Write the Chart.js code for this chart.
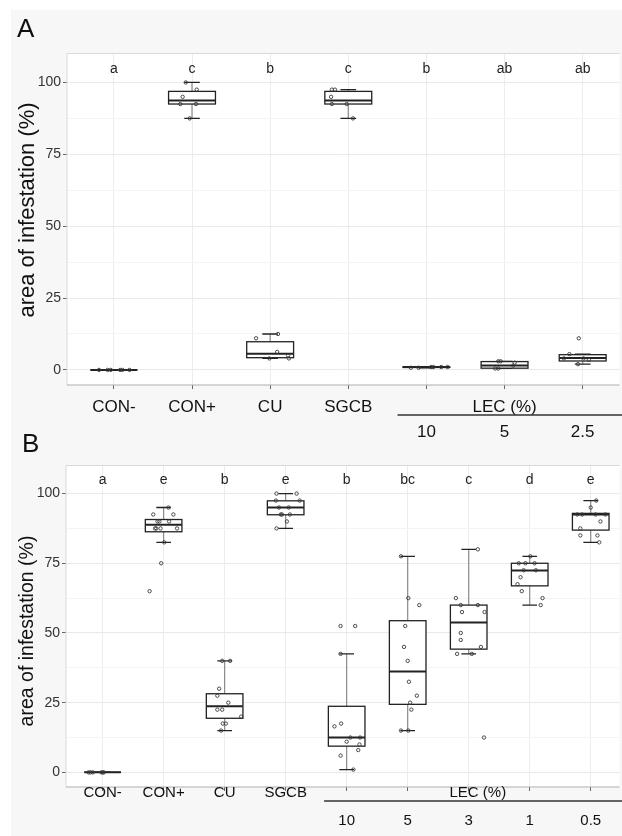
<!DOCTYPE html>
<html><head><meta charset="utf-8">
<script src="https://cdn.jsdelivr.net/npm/chart.js@4.4.1/dist/chart.umd.min.js"></script>
<style>
html,body{margin:0;padding:0;background:#fff;width:622px;height:836px;overflow:hidden;position:relative;}
#bg{position:absolute;left:11px;top:10px;width:611px;height:826px;background:#f7f7f7;}
.wrap{position:absolute;left:0;width:622px;}
#wa{top:0;height:450px;} #wb{top:450px;height:386px;}
.plab{position:absolute;font-family:"Liberation Sans",Arial,sans-serif;font-size:26px;line-height:26px;color:#111;}
</style></head><body>
<div id="bg"></div>
<div class="wrap" id="wa"><canvas id="ca" width="622" height="450"></canvas></div>
<div class="wrap" id="wb"><canvas id="cb" width="622" height="386"></canvas></div>
<div class="plab" style="left:17px;top:15px;">A</div>
<div class="plab" style="left:22px;top:430px;">B</div>
<script>
// ---------- Panel A data ----------
const categoriesA = ['CON-','CON+','CU','SGCB','10','5','2.5'];
const lettersA = ['a','c','b','c','b','ab','ab'];
const whiskerLowA = [0, 87.5, 4, 87.5, 0.75, 0.5, 2];
const q1A = [0, 92.5, 4.25, 92.5, 0.85, 0.6, 3.1];
const medianA = [0, 93.75, 5.6, 93.75, 1, 1.5, 4.1];
const q3A = [0, 96.9, 9.8, 96.9, 1.05, 2.9, 5.3];
const whiskerHighA = [0, 100, 12.5, 97.5, 1.05, 3, 5.5];
const pointsA = [
  [0,0,0,0,0,0],
  [100,97.5,95,92.5,92.5,87.5],
  [12.5,11,6.25,4,5,4],
  [97.5,97.5,95,92.5,92.5,87.5],
  [0.75,0.75,1,1,1,1],
  [3,3,2.5,1.5,0.5,0.5],
  [11,5.5,4,4,3.5,2]
];
const jitterA = [
  [-0.19,-0.08,-0.04,0.08,0.11,0.2],
  [-0.08,0.06,-0.12,-0.15,0.05,-0.03],
  [0.1,-0.18,0.09,-0.01,0.23,0.24],
  [-0.21,-0.17,-0.22,-0.21,-0.02,0.06],
  [-0.2,-0.1,0.06,0.09,0.19,0.27],
  [-0.08,-0.05,0.13,0.11,-0.12,-0.08],
  [-0.05,-0.17,-0.24,0.01,0.08,-0.06]
];

// ---------- Panel B data ----------
const categoriesB = ['CON-','CON+','CU','SGCB','10','5','3','1','0.5'];
const lettersB = ['a','e','b','e','b','bc','c','d','e'];
const whiskerLowB = [0, 82.5, 15, 87.5, 1, 15, 42.5, 60, 82.5];
const q1B = [0, 86.3, 19.4, 92.4, 9.4, 24.4, 44.2, 66.9, 86.9];
const medianB = [0, 88.8, 23.7, 95, 12.5, 36.2, 53.8, 72.4, 92.5];
const q3B = [0, 90.7, 28.2, 97.4, 23.7, 54.4, 60, 75, 92.9];
const whiskerHighB = [0, 95, 40, 100, 42.5, 77.5, 80, 77.5, 97.5];
const pointsB = [
  [0,0,0,0,0,0],
  [95,92.5,92.5,90,90,90,87.5,87.5,87.5,87.5,82.5,75,65],
  [40,40,30,27.5,25,22.5,22.5,20,17.5,17.5,15],
  [100,100,97.5,97.5,95,95,92.5,92.5,92.5,90,87.5],
  [52.5,52.5,42.5,16.5,17.5,12.5,12.5,11,10,8,6,1],
  [77.5,62.5,60,52.5,45,40,32.5,27.5,25,22.5,15,15],
  [80,62.5,60,60,57.5,57.5,50,47.5,45,42.5,42.5,12.5],
  [77.5,75,75,75,72.5,72.5,70,67.5,65,62.5,60],
  [97.5,95,92.5,92.5,92.5,92.5,90,87.5,85,85,82.5]
];
const jitterB = [
  [-0.23,-0.2,-0.16,-0.02,0,0.02],
  [0.08,-0.17,0.16,-0.1,-0.07,0.09,-0.14,-0.12,-0.05,0.22,0.01,-0.04,-0.23],
  [-0.04,0.09,-0.09,-0.12,0.06,-0.12,-0.04,0.27,-0.03,0.02,-0.06],
  [-0.15,0.18,-0.16,0.23,-0.11,0.05,-0.08,-0.06,0.07,0.02,-0.15],
  [-0.1,0.14,-0.1,-0.2,-0.09,0.06,0.22,0,0.21,0.19,-0.1,0.11],
  [-0.11,0.01,0.19,-0.04,-0.06,0,0.02,0.15,0.04,0.06,-0.11,0.01],
  [0.15,-0.21,-0.13,0.15,-0.11,0.26,-0.13,-0.13,0.2,-0.19,0.05,0.25],
  [0.01,-0.18,-0.07,0.08,-0.1,0.1,-0.15,-0.2,-0.13,0.21,0.18],
  [0.09,0,-0.22,-0.14,0.08,0.24,0.16,-0.17,-0.17,0.11,0.14]
];

const yTicks = [0,12.5,25,37.5,50,62.5,75,87.5,100];
const groupLabel = 'LEC (%)';
const yTitle = 'area of infestation (%)';
const FONT = '"Liberation Sans", Arial, sans-serif';

function makePanel(canvasId, P) {
  const pts = [];
  P.points.forEach((arr, i) => arr.forEach((v, j) => pts.push({x: i + P.jitter[i][j], y: v})));
  const n = P.cats.length;
  const plug = {
    id: 'boxes_' + canvasId,
    beforeDraw(chart) {
      const {ctx, chartArea: a} = chart;
      ctx.save();
      ctx.fillStyle = '#ffffff';
      ctx.fillRect(a.left, a.top, a.right - a.left, a.bottom - a.top);
      ctx.restore();
    },
    beforeDatasetsDraw(chart) {
      const {ctx, chartArea: a, scales: {x, y}} = chart;
      ctx.save();
      ctx.beginPath(); ctx.rect(a.left, a.top, a.right - a.left, a.bottom - a.top); ctx.clip();
      const line = (x1, y1, x2, y2) => { ctx.beginPath(); ctx.moveTo(x1, y1); ctx.lineTo(x2, y2); ctx.stroke(); };
      for (let i = 0; i < n; i++) {
        const xc = x.getPixelForValue(i);
        const xl = x.getPixelForValue(i - 0.3), xr = x.getPixelForValue(i + 0.3);
        const cl = x.getPixelForValue(i - P.cap), cr = x.getPixelForValue(i + P.cap);
        const yLo = y.getPixelForValue(P.lo[i]), yQ1 = y.getPixelForValue(P.q1[i]);
        const yMd = y.getPixelForValue(P.med[i]), yQ3 = y.getPixelForValue(P.q3[i]);
        const yHi = y.getPixelForValue(P.hi[i]);
        ctx.strokeStyle = '#8a8a8a'; ctx.lineWidth = 1.2;
        line(xc, yHi, xc, yQ3); line(xc, yQ1, xc, yLo);
        ctx.strokeStyle = '#222'; ctx.lineWidth = 1.3;
        line(cl, yHi, cr, yHi); line(cl, yLo, cr, yLo);
        ctx.fillStyle = '#fff';
        ctx.fillRect(xl, yQ3, xr - xl, yQ1 - yQ3);
        ctx.strokeStyle = '#222'; ctx.lineWidth = 1.3;
        ctx.strokeRect(xl, yQ3, xr - xl, yQ1 - yQ3);
        ctx.lineWidth = 2;
        line(xl, yMd, xr, yMd);
      }
      ctx.restore();
    },
    afterDraw(chart) {
      const {ctx, chartArea: a, scales: {x, y}} = chart;
      ctx.save();
      // panel border
      ctx.strokeStyle = '#d9d9d9'; ctx.lineWidth = 1;
      ctx.beginPath(); ctx.moveTo(a.left, a.bottom); ctx.lineTo(a.left, a.top + 0.5); ctx.lineTo(a.right, a.top + 0.5); ctx.stroke();
      ctx.strokeStyle = '#b0b0b0'; ctx.lineWidth = 1.2;
      ctx.beginPath(); ctx.moveTo(a.left, a.bottom); ctx.lineTo(a.right, a.bottom); ctx.stroke();
      // y axis title
      ctx.save();
      ctx.translate(P.titleX, P.titleY); ctx.rotate(-Math.PI / 2);
      ctx.fillStyle = '#111'; ctx.textAlign = 'center'; ctx.textBaseline = 'middle';
      ctx.font = P.titleFont + 'px ' + FONT;
      ctx.fillText(yTitle, 0, 0);
      ctx.restore();
      // significance letters
      ctx.fillStyle = '#222'; ctx.textAlign = 'center'; ctx.textBaseline = 'middle';
      ctx.font = '14px ' + FONT;
      const yl = y.getPixelForValue(104.8);
      for (let i = 0; i < n; i++) ctx.fillText(P.letters[i], x.getPixelForValue(i), yl);
      // x labels
      ctx.fillStyle = '#111';
      ctx.font = P.xFont + 'px ' + FONT;
      for (let i = 0; i < P.groupStart; i++) ctx.fillText(P.cats[i], x.getPixelForValue(i), P.yLab);
      let sum = 0;
      for (let i = P.groupStart; i < n; i++) { sum += i; ctx.fillText(P.cats[i], x.getPixelForValue(i), P.yNum); }
      const gc = x.getPixelForValue(sum / (n - P.groupStart) + P.groupShift);
      ctx.fillText(groupLabel, gc, P.yLab);
      ctx.strokeStyle = '#333'; ctx.lineWidth = 1.5;
      ctx.beginPath(); ctx.moveTo(x.getPixelForValue(P.groupStart - 0.37), P.yLine); ctx.lineTo(chart.width, P.yLine); ctx.stroke();
      ctx.restore();
    }
  };
  return new Chart(document.getElementById(canvasId), {
    type: 'scatter',
    data: {datasets: [{data: pts, pointRadius: 1.7, pointHoverRadius: 1.7, pointBorderWidth: 0.9,
      borderColor: '#3a3a3a', backgroundColor: 'rgba(255,255,255,0)'}]},
    options: {
      responsive: false, animation: false, events: [],
      layout: {padding: {top: P.top, left: 0, right: 0, bottom: 0}},
      plugins: {legend: {display: false}, tooltip: {enabled: false}},
      scales: {
        x: {type: 'linear', min: -0.6, max: P.xMax,
          afterBuildTicks: s => { s.ticks = P.cats.map((c, i) => ({value: i})); },
          afterFit: s => { s.height = P.xAxisH; },
          ticks: {display: false},
          grid: {color: '#ececec', lineWidth: 1, tickLength: 4, tickColor: '#666', drawTicks: true},
          border: {display: false}},
        y: {type: 'linear', min: -5.25, max: 110.25,
          afterBuildTicks: s => { s.ticks = yTicks.map(v => ({value: v})); },
          afterFit: s => { s.width = P.yAxisW; },
          ticks: {callback: v => (v % 25 === 0 ? String(v) : ''), color: '#333',
            font: {size: 14, family: FONT}, padding: 2},
          grid: {color: c => (c.tick && c.tick.value % 25 === 0 ? '#e9e9e9' : '#f4f4f4'),
            tickColor: c => (c.tick && c.tick.value % 25 === 0 ? '#666' : 'rgba(0,0,0,0)'),
            tickLength: 4, lineWidth: 1},
          border: {display: false},
          title: {display: false}}
      }
    },
    plugins: [plug]
  });
}

makePanel('ca', {cats: categoriesA, letters: lettersA, lo: whiskerLowA, q1: q1A, med: medianA, q3: q3A,
  hi: whiskerHighA, points: pointsA, jitter: jitterA, groupStart: 4, groupShift: 0, cap: 0.1,
  top: 53, xAxisH: 65, yAxisW: 67, xMax: 6.47, xFont: 17, yLab: 407, yLine: 415, yNum: 432,
  titleX: 28, titleY: 210, titleFont: 22});
makePanel('cb', {cats: categoriesB, letters: lettersB, lo: whiskerLowB, q1: q1B, med: medianB, q3: q3B,
  hi: whiskerHighB, points: pointsB, jitter: jitterB, groupStart: 4, groupShift: 0.15, cap: 0.12,
  top: 15, xAxisH: 49, yAxisW: 66, xMax: 8.47, xFont: 15, yLab: 343, yLine: 351, yNum: 371,
  titleX: 28, titleY: 181, titleFont: 19.5});
</script>
</body></html>
